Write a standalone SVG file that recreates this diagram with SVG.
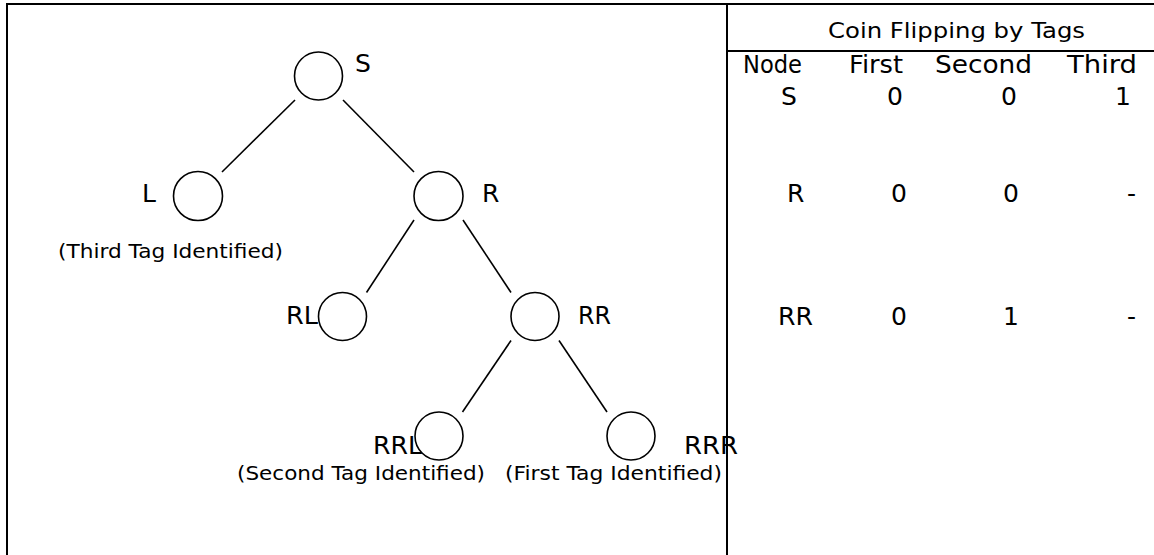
<svg xmlns="http://www.w3.org/2000/svg" width="1154" height="555" viewBox="0 0 1154 555">
<style>
.bg{fill:#ffffff}
.frame{stroke:#000;stroke-width:2;fill:none}
.node circle{fill:none;stroke:#000;stroke-width:1.6}
.edge{stroke:#000;stroke-width:1.6;fill:none}
.lbl{font-family:"DejaVu Sans",Verdana,sans-serif;font-size:25px;fill:#000}
.note{font-family:"DejaVu Sans",Verdana,sans-serif;font-size:20px;fill:#000}
.title{font-family:"DejaVu Sans",Verdana,sans-serif;font-size:22px;fill:#000}
.head{font-family:"DejaVu Sans",Verdana,sans-serif;font-size:24px;fill:#000}
.cell{font-family:"DejaVu Sans",Verdana,sans-serif;font-size:25px;fill:#000}
</style>
<rect class="bg" x="0" y="0" width="1154" height="555"/>
<g id="frame">
<path class="frame" d="M7,555 V4 H1154"/>
<path class="frame" d="M727,4 V555"/>
<path class="frame" d="M727,51 H1154"/>
</g>
<g id="connectors">
<line class="edge" x1="295" y1="100" x2="222" y2="172"/>
<line class="edge" x1="343" y1="100" x2="414" y2="172"/>
<line class="edge" x1="414" y1="220" x2="366.5" y2="292.5"/>
<line class="edge" x1="463" y1="220" x2="511" y2="292.5"/>
<line class="edge" x1="511" y1="340.5" x2="462.5" y2="412"/>
<line class="edge" x1="559" y1="340.5" x2="607" y2="412"/>
</g>
<g id="node-S" class="node">
<circle cx="318.5" cy="76" r="24"/>
<text class="lbl" x="355" y="72">S</text>
</g>
<g id="node-L" class="node">
<circle cx="198" cy="196" r="24.5"/>
<text class="lbl" x="142" y="202">L</text>
<text class="note" x="58" y="258" textLength="225" lengthAdjust="spacingAndGlyphs">(Third Tag Identified)</text>
</g>
<g id="node-R" class="node">
<circle cx="438.5" cy="196" r="24.5"/>
<text class="lbl" x="482" y="202">R</text>
</g>
<g id="node-RL" class="node">
<circle cx="342.5" cy="316.5" r="24"/>
<text class="lbl" x="286" y="324" textLength="32" lengthAdjust="spacingAndGlyphs">RL</text>
</g>
<g id="node-RR" class="node">
<circle cx="535" cy="316.5" r="24"/>
<text class="lbl" x="578" y="324" textLength="33" lengthAdjust="spacingAndGlyphs">RR</text>
</g>
<g id="node-RRL" class="node">
<circle cx="439" cy="436" r="24"/>
<text class="lbl" x="373" y="454" textLength="49" lengthAdjust="spacingAndGlyphs">RRL</text>
<text class="note" x="237" y="480" textLength="248" lengthAdjust="spacingAndGlyphs">(Second Tag Identified)</text>
</g>
<g id="node-RRR" class="node">
<circle cx="631" cy="436" r="24"/>
<text class="lbl" x="684" y="454" textLength="54" lengthAdjust="spacingAndGlyphs">RRR</text>
<text class="note" x="505" y="480" textLength="217" lengthAdjust="spacingAndGlyphs">(First Tag Identified)</text>
</g>
<g id="table">
<text class="title" x="828" y="38" textLength="257" lengthAdjust="spacingAndGlyphs">Coin Flipping by Tags</text>
<text class="head" x="743" y="73" textLength="59" lengthAdjust="spacingAndGlyphs">Node</text>
<text class="head" x="849" y="73" textLength="54" lengthAdjust="spacingAndGlyphs">First</text>
<text class="head" x="935" y="73" textLength="97" lengthAdjust="spacingAndGlyphs">Second</text>
<text class="head" x="1067" y="73" textLength="70" lengthAdjust="spacingAndGlyphs">Third</text>
<text class="cell" x="781" y="105">S</text>
<text class="cell" x="887" y="105">0</text>
<text class="cell" x="1001" y="105">0</text>
<text class="cell" x="1115" y="105">1</text>
<text class="cell" x="787" y="202">R</text>
<text class="cell" x="891" y="202">0</text>
<text class="cell" x="1003" y="202">0</text>
<text class="cell" x="1127" y="202">-</text>
<text class="cell" x="778" y="325" textLength="35" lengthAdjust="spacingAndGlyphs">RR</text>
<text class="cell" x="891" y="325">0</text>
<text class="cell" x="1003" y="325">1</text>
<text class="cell" x="1127" y="325">-</text>
</g>
</svg>
